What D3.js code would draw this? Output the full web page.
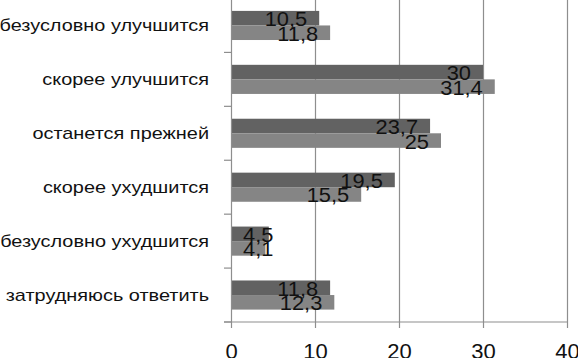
<!DOCTYPE html>
<html><head><meta charset="utf-8">
<script src="https://cdn.jsdelivr.net/npm/d3@7"></script>
<style>html,body{margin:0;padding:0;background:#fff;overflow:hidden}</style>
</head><body>
<script>
const categories = ["безусловно улучшится","скорее улучшится","останется прежней","скорее ухудшится","безусловно ухудшится","затрудняюсь ответить"];
const series1 = [10.5, 30, 23.7, 19.5, 4.5, 11.8];
const series2 = [11.8, 31.4, 25, 15.5, 4.1, 12.3];
const seriesNames = ["s1","s2"];
const tickValues = [0,10,20,30,40];

const W = 578, H = 358;
const FONT = "'Liberation Sans', Arial, sans-serif";
const svg = d3.select("body").append("svg").attr("width", W).attr("height", H)
  .style("font-family", FONT);

const x = d3.scaleLinear().domain([0,40]).range([231, 567]);
const y = d3.scaleBand().domain(categories).range([-1.5, 322]).paddingInner(0.46).paddingOuter(0.23);
const ySub = d3.scaleBand().domain(seriesNames).range([0, y.bandwidth()]);
const colors = {s1:"#626262", s2:"#858585"};
const gridColor = "#8e8e8e";

function stretch(sel, k){
  sel.each(function(){
    const w = this.getComputedTextLength();
    d3.select(this).attr("textLength", w*k).attr("lengthAdjust","spacingAndGlyphs");
  });
}

// gridlines
svg.append("g").selectAll("line").data(tickValues.slice(1)).join("line")
  .attr("x1", d=>x(d)+0.5).attr("x2", d=>x(d)+0.5).attr("y1", -2).attr("y2", 322)
  .attr("stroke", gridColor).attr("stroke-width", 1.2);

// bars
const rows = categories.map((c,i)=>({c, vals:[{k:"s1",v:series1[i]},{k:"s2",v:series2[i]}]}));
const g = svg.append("g").selectAll("g").data(rows).join("g")
  .attr("transform", d=>`translate(0,${y(d.c)})`);
g.selectAll("rect").data(d=>d.vals).join("rect")
  .attr("x", x(0)).attr("y", d=>ySub(d.k)).attr("width", d=>x(d.v)-x(0)).attr("height", ySub.bandwidth())
  .attr("fill", d=>colors[d.k]);
const fmt = v => String(v).replace(".", ",");
const labels = g.selectAll("text").data(d=>d.vals).join("text")
  .attr("x", d=>x(d.v)-12).attr("y", d=>ySub(d.k)+ySub.bandwidth()/2+1)
  .attr("text-anchor","end").attr("dominant-baseline","central")
  .attr("font-size", 19.5).attr("fill","#111").text(d=>fmt(d.v));
stretch(labels, 1.12);
labels.each(function(d){
  const w = +this.getAttribute("textLength");
  const xe = Math.max(x(d.v)-12, x(0)+12+w);
  d3.select(this).attr("x", xe);
});

// y axis
const yAxis = d3.axisLeft(y).tickSize(0).tickPadding(0).tickFormat(d=>d);
const ya = svg.append("g").attr("transform", `translate(${x(0)},0)`).call(yAxis);
ya.select(".domain").remove();
const ylabels = ya.selectAll(".tick text").attr("x", -22).attr("font-size", 17).attr("fill","#111")
  .attr("font-family", FONT).attr("dy","0.35em");
stretch(ylabels, 1.17);
// separator ticks
const bounds = categories.map(c=>y(c)-y.step()*y.paddingInner()/2).concat([322]);
svg.append("g").selectAll("line").data(bounds).join("line")
  .attr("x1", 224).attr("x2", x(0)).attr("y1", d=>d).attr("y2", d=>d)
  .attr("stroke", gridColor).attr("stroke-width", 1.2);
svg.append("line").attr("x1", x(0)+0.5).attr("x2", x(0)+0.5).attr("y1",-2).attr("y2",322)
  .attr("stroke", gridColor).attr("stroke-width",1.2);

// x axis
const xAxis = d3.axisBottom(x).tickValues(tickValues).tickSize(6).tickPadding(15);
const xa = svg.append("g").attr("transform","translate(0,322)").call(xAxis);
xa.select(".domain").remove();
xa.selectAll(".tick line").attr("stroke", gridColor).attr("stroke-width",1.2);
xa.selectAll(".tick text").attr("font-size", 22).attr("fill","#111")
  .attr("font-family", FONT);
svg.append("line").attr("x1",224).attr("x2",567).attr("y1",322).attr("y2",322)
  .attr("stroke", gridColor).attr("stroke-width",1.2);
</script>
</body></html>
